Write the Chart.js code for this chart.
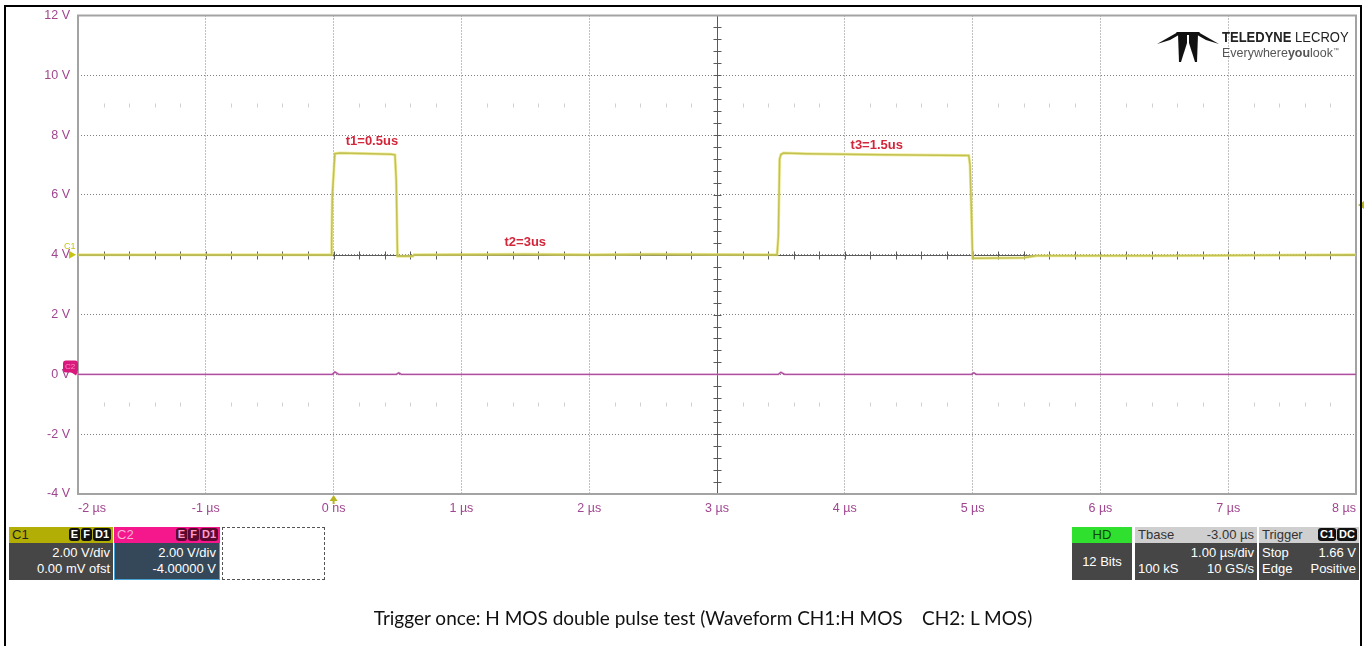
<!DOCTYPE html>
<html>
<head>
<meta charset="utf-8">
<script src="https://cdn.jsdelivr.net/npm/chart.js@4.4.0/dist/chart.umd.min.js"></script>
<style>
body{margin:0;background:#fff;width:1368px;height:646px;overflow:hidden;position:relative;font-family:"Liberation Sans",Arial,sans-serif}
#scope{position:absolute;left:0;top:0}
.frame{position:absolute;left:4px;top:5px;width:1358px;height:660px;border:2px solid #000;box-sizing:border-box;pointer-events:none}
.box{position:absolute;top:527px;height:53px;font-size:13px;color:#fff;box-sizing:border-box}
.hd{height:16px;line-height:16px;padding:0 3px;position:relative}
.body{height:37px;background:#464646;padding:2px 3px;line-height:16px;box-sizing:border-box}
.badges{position:absolute;right:2px;top:1px;font-size:11px;line-height:13px}
.badges span{display:inline-block;background:#111;color:#fff;border-radius:3px;padding:0 2px;margin-left:1px;font-weight:bold}
.r{display:flex;justify-content:space-between}
#logo{position:absolute;left:1157px;top:31px}
#logotext{position:absolute;left:1222px;top:31px;font-family:"Liberation Sans Narrow","Liberation Sans",Arial,sans-serif;line-height:13px;white-space:nowrap}
#caption{position:absolute;left:19px;width:1368px;top:606px;text-align:center;font-family:Lato,"Noto Sans",sans-serif;font-size:19px;color:#111;white-space:pre}
</style>
</head>
<body>
<canvas id="scope" width="1368" height="646"></canvas>
<div class="frame"></div>

<svg id="logo" width="62" height="32" viewBox="0 0 62 32">
  <polygon points="0,13 21,1 27,1 13,9" fill="#111"/>
  <polygon points="62,13 41,1 35,1 49,9" fill="#111"/>
  <polygon points="21,3 30,3 30,12 24,31 22,31" fill="#111"/>
  <polygon points="41,3 32,3 32,12 38,31 40,31" fill="#111"/>
  <polygon points="19,1 43,1 40,4 22,4" fill="#111"/>
</svg>
<div id="logotext">
  <div style="font-size:14px;color:#222;transform:scaleX(0.93);transform-origin:left"><b>TELEDYNE</b> LECROY</div>
  <div style="font-size:13px;color:#555;transform:scaleX(0.96);transform-origin:left">Everywhere<b>you</b>look<sup style="font-size:6px">™</sup></div>
</div>

<div class="box" style="left:9px;width:104px">
  <div class="hd" style="background:#b2ae06;color:#222">C1<div class="badges"><span>E</span><span>F</span><span>D1</span></div></div>
  <div class="body" style="text-align:right">2.00 V/div<br>0.00 mV ofst</div>
</div>
<div class="box" style="left:114px;width:106px">
  <div class="hd" style="background:#f5178c;color:#ffb0d8">C2<div class="badges"><span style="background:#5a0830;color:#ff9cc8">E</span><span style="background:#5a0830;color:#ff9cc8">F</span><span style="background:#5a0830;color:#ff9cc8">D1</span></div></div>
  <div class="body" style="text-align:right;background:#34485a;border:1px solid #4aa3d6;border-top:none">2.00 V/div<br>-4.00000 V</div>
</div>
<div class="box" style="left:222px;width:103px;border:1px dashed #555"></div>

<div class="box" style="left:1072px;width:60px">
  <div class="hd" style="background:#2fe02f;color:#114411;text-align:center">HD</div>
  <div class="body" style="text-align:center;line-height:33px">12 Bits</div>
</div>
<div class="box" style="left:1135px;width:122px">
  <div class="hd r" style="background:#cfcfcf;color:#333"><span>Tbase</span><span>-3.00 µs</span></div>
  <div class="body"><div style="text-align:right">1.00 µs/div</div><div class="r"><span>100 kS</span><span>10 GS/s</span></div></div>
</div>
<div class="box" style="left:1259px;width:100px">
  <div class="hd" style="background:#cfcfcf;color:#333">Trigger<div class="badges"><span>C1</span><span>DC</span></div></div>
  <div class="body"><div class="r"><span>Stop</span><span>1.66 V</span></div><div class="r"><span>Edge</span><span>Positive</span></div></div>
</div>

<div id="caption">Trigger once: H MOS double pulse test (Waveform CH1:H MOS    CH2: L MOS)</div>

<script>
// C1 (H MOS) trace, time in µs, display volts
const c1Time = [-2, -0.02, -0.015, -0.01, 0.01, 0.05, 0.3, 0.45, 0.48, 0.49, 0.50, 0.52, 0.53, 0.62, 0.63, 1.5, 2.0, 2.5, 3.47, 3.48, 3.49, 3.5, 3.52, 3.7, 4.3, 4.97, 4.98, 4.99, 5.0, 5.02, 5.4, 5.5, 6.5, 8];
const c1Volt = [4.0, 4.0, 4.5, 6.0, 7.38, 7.4, 7.38, 7.36, 7.34, 6.5, 3.95, 3.95, 3.95, 3.95, 4.0, 4.02, 4.0, 4.02, 4.0, 4.6, 7.2, 7.35, 7.4, 7.38, 7.34, 7.32, 7.0, 5.5, 3.88, 3.88, 3.9, 3.97, 3.97, 4.0];
// C2 (L MOS) trace
const c2Time = [-2, -0.01, 0.01, 0.04, 0.49, 0.51, 0.53, 3.48, 3.5, 3.53, 4.99, 5.01, 5.03, 8];
const c2Volt = [0, 0, 0.08, 0, 0, 0.05, 0, 0, 0.07, 0, 0, 0.05, 0, 0];
// axes
const xTicks = [-2, -1, 0, 1, 2, 3, 4, 5, 6, 7, 8];
const yTicks = [-4, -2, 0, 2, 4, 6, 8, 10, 12];
// annotations
const noteText = ['t1=0.5us', 't2=3us', 't3=1.5us'];
const noteX = [0.30, 1.50, 4.25];
const noteY = [7.8, 4.4, 7.67];
const trigLevel = 5.66;

function pts(t, v) {
    let out = [];
    for (let i = 0; i < t.length; i++) out.push({x: t[i], y: v[i]});
    return out;
}

const scopeDeco = {
    id: 'scopeDeco',
    beforeDatasetsDraw(chart) {
        const ctx = chart.ctx, a = chart.chartArea;
        const xs = chart.scales.x, ys = chart.scales.y;
        ctx.save();
        // faint sub-division marks
        ctx.strokeStyle = '#d0d0d0';
        ctx.lineWidth = 1;
        [9, -1].forEach(v => {
            const py = Math.round(ys.getPixelForValue(v)) + 0.5;
            for (let t = -2; t <= 8.001; t += 0.2) {
                if (Math.abs(t - Math.round(t)) < 0.01) continue;
                const px = Math.round(xs.getPixelForValue(t)) + 0.5;
                ctx.beginPath(); ctx.moveTo(px, py - 2); ctx.lineTo(px, py + 2); ctx.stroke();
            }
        });
        // centre cross with ticks
        ctx.strokeStyle = '#5a5a5a';
        const cx = Math.round(xs.getPixelForValue(3)) + 0.5;
        const cy = Math.round(ys.getPixelForValue(4)) + 0.5;
        ctx.beginPath(); ctx.moveTo(cx, a.top); ctx.lineTo(cx, a.bottom); ctx.stroke();
        ctx.beginPath(); ctx.moveTo(a.left, cy); ctx.lineTo(a.right, cy); ctx.stroke();
        for (let v = -4; v <= 12.001; v += 0.4) {
            const py = Math.round(ys.getPixelForValue(v)) + 0.5;
            ctx.beginPath(); ctx.moveTo(cx - 4, py); ctx.lineTo(cx + 4, py); ctx.stroke();
        }
        for (let t = -2; t <= 8.001; t += 0.2) {
            const px = Math.round(xs.getPixelForValue(t)) + 0.5;
            ctx.beginPath(); ctx.moveTo(px, cy - 4); ctx.lineTo(px, cy + 4); ctx.stroke();
        }
        // plot frame
        ctx.strokeStyle = '#a3a3a3';
        ctx.lineWidth = 2;
        ctx.strokeRect(a.left, a.top, a.right - a.left, a.bottom - a.top);
        ctx.restore();
    },
    afterDraw(chart) {
        const ctx = chart.ctx, a = chart.chartArea;
        const xs = chart.scales.x, ys = chart.scales.y;
        ctx.save();
        // annotations
        ctx.fillStyle = '#d3263a';
        ctx.font = 'bold 13px "Liberation Sans", Arial, sans-serif';
        ctx.textAlign = 'center';
        ctx.textBaseline = 'middle';
        noteText.forEach((s, i) => ctx.fillText(s, xs.getPixelForValue(noteX[i]), ys.getPixelForValue(noteY[i])));
        // C1 marker
        const c1y = ys.getPixelForValue(4);
        ctx.fillStyle = '#c8c414';
        ctx.font = '9px "Liberation Sans", Arial, sans-serif';
        ctx.textAlign = 'left';
        ctx.fillText('C1', 64, c1y - 8);
        ctx.beginPath(); ctx.moveTo(a.left - 2, c1y); ctx.lineTo(a.left - 9, c1y - 4); ctx.lineTo(a.left - 9, c1y + 4); ctx.closePath(); ctx.fill();
        // C2 marker
        const c2y = ys.getPixelForValue(0);
        ctx.fillStyle = '#d81a7c';
        ctx.beginPath();
        ctx.roundRect(63, c2y - 14, 15, 12, 3);
        ctx.fill();
        ctx.beginPath(); ctx.moveTo(70, c2y - 3); ctx.lineTo(78, c2y - 3); ctx.lineTo(76, c2y + 1); ctx.closePath(); ctx.fill();
        ctx.fillStyle = '#ff8cc4';
        ctx.font = '8px "Liberation Sans", Arial, sans-serif';
        ctx.fillText('C2', 65, c2y - 8);
        // trigger level marker (right)
        const ty = ys.getPixelForValue(trigLevel);
        ctx.fillStyle = '#b8b420';
        ctx.beginPath(); ctx.moveTo(a.right + 2, ty); ctx.lineTo(a.right + 8, ty - 4); ctx.lineTo(a.right + 8, ty + 4); ctx.closePath(); ctx.fill();
        // trigger position marker (bottom)
        const tx = xs.getPixelForValue(0);
        ctx.beginPath(); ctx.moveTo(tx, a.bottom + 1); ctx.lineTo(tx - 4, a.bottom + 7); ctx.lineTo(tx + 4, a.bottom + 7); ctx.closePath(); ctx.fill();
        ctx.fillRect(tx - 1, a.bottom + 6, 2, 4);
        ctx.restore();
    }
};

const chart = new Chart(document.getElementById('scope'), {
    type: 'line',
    data: {
        datasets: [
            {data: pts(c2Time, c2Volt), borderColor: 'rgba(220,140,200,0.35)', borderWidth: 2.5, pointRadius: 0, tension: 0},
            {data: pts(c2Time, c2Volt), borderColor: '#93318a', borderWidth: 1.4, pointRadius: 0, tension: 0},
            {data: pts(c1Time, c1Volt), borderColor: 'rgba(228,226,100,0.65)', borderWidth: 3, pointRadius: 0, tension: 0},
            {data: pts(c1Time, c1Volt), borderColor: '#868434', borderWidth: 1.5, pointRadius: 0, tension: 0}
        ]
    },
    options: {
        responsive: false,
        animation: false,
        devicePixelRatio: 1,
        layout: {padding: {left: 0, top: 15, right: 12, bottom: 122}},
        plugins: {legend: {display: false}, tooltip: {enabled: false}},
        scales: {
            x: {
                type: 'linear', min: -2, max: 8,
                afterBuildTicks: s => { s.ticks = xTicks.map(v => ({value: v})); },
                afterFit: s => { s.height = 30; },
                border: {display: false, dash: [1, 2]},
                grid: {color: '#808080', drawTicks: false, lineWidth: 1},
                ticks: {
                    align: 'inner', padding: 7, color: '#a0468f',
                    font: {family: '"Liberation Sans", Arial, sans-serif', size: 12.5},
                    callback: v => v === 0 ? '0 ns' : v + ' µs'
                }
            },
            y: {
                min: -4, max: 12,
                afterBuildTicks: s => { s.ticks = yTicks.map(v => ({value: v})); },
                afterFit: s => { s.width = 78; },
                border: {display: false, dash: [1, 2]},
                grid: {color: '#808080', drawTicks: false, lineWidth: 1},
                ticks: {
                    padding: 8, color: '#a0468f',
                    font: {family: '"Liberation Sans", Arial, sans-serif', size: 12.5},
                    callback: v => v === 0 ? '0 V' : v + ' V'
                }
            }
        }
    },
    plugins: [scopeDeco]
});
</script>
</body>
</html>
